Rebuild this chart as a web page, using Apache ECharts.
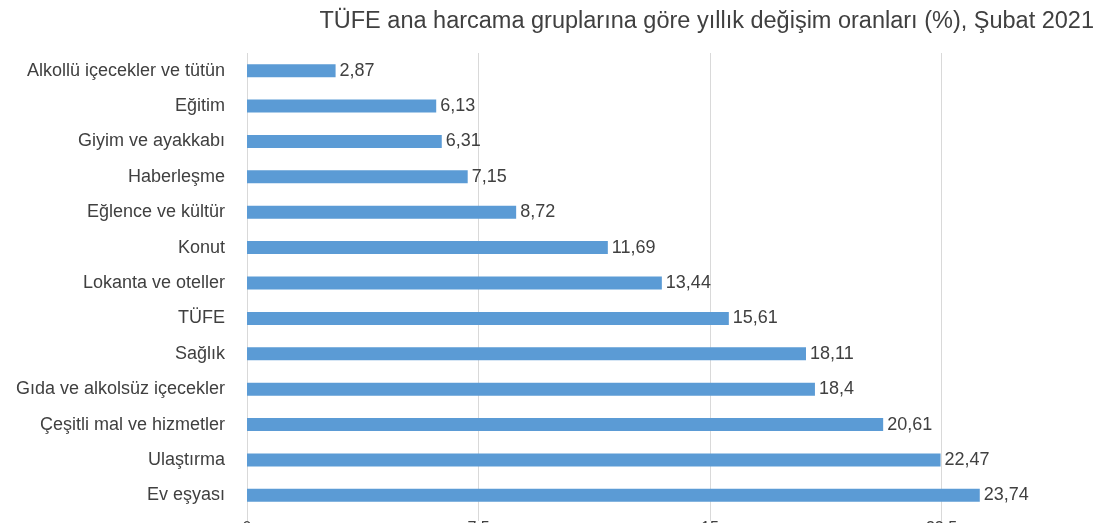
<!DOCTYPE html>
<html>
<head>
<meta charset="utf-8">
<script src="https://cdn.jsdelivr.net/npm/echarts@6/dist/echarts.min.js"></script>
<style>
  html, body { margin: 0; padding: 0; background: #fff; overflow: hidden; }
  body { width: 1103px; height: 523px; }
  #chart { width: 1200px; height: 523px; }
</style>
</head>
<body>
<div id="chart"></div>
<script>
// Categories listed bottom to top (ECharts category y-axis starts at the bottom)
const categories = [
    'Ev eşyası',
    'Ulaştırma',
    'Çeşitli mal ve hizmetler',
    'Gıda ve alkolsüz içecekler',
    'Sağlık',
    'TÜFE',
    'Lokanta ve oteller',
    'Konut',
    'Eğlence ve kültür',
    'Haberleşme',
    'Giyim ve ayakkabı',
    'Eğitim',
    'Alkollü içecekler ve tütün'
];
const values = [23.74, 22.47, 20.61, 18.4, 18.11, 15.61, 13.44, 11.69, 8.72, 7.15, 6.31, 6.13, 2.87];
const axisMax = 30;
const axisStep = 7.5;

const fontFamily = '"Liberation Sans", "DejaVu Sans", sans-serif';
const textColor = '#404040';

function trNumber(v) {
    return String(v).replace('.', ',');
}

document.addEventListener('DOMContentLoaded', function() {
    // chart div is wider than the window so the 30 gridline falls off the right edge
    const chart = echarts.init(document.getElementById('chart'));
    const option = {
        animation: false,
        textStyle: { fontFamily: fontFamily },
        title: {
            text: 'TÜFE ana harcama gruplarına göre yıllık değişim oranları (%), Şubat 2021',
            right: 1200 - 1099,
            top: 5,
            textStyle: {
                fontFamily: fontFamily,
                fontSize: 23.5,
                fontWeight: 'normal',
                color: textColor
            }
        },
        grid: {
            left: 247,
            right: 1200 - Math.round(247 + 30.87 * axisMax),
            top: 53,
            bottom: 10,
            outerBoundsMode: 'none'
        },
        xAxis: {
            type: 'value',
            min: 0,
            max: axisMax,
            interval: axisStep,
            axisLine: { show: false },
            axisTick: { show: true, length: 8, lineStyle: { color: '#d9d9d9' } },
            axisLabel: {
                color: textColor,
                fontSize: 16,
                margin: 8,
                formatter: function(v) { return trNumber(v); }
            },
            splitLine: { lineStyle: { color: '#d9d9d9', width: 1 } }
        },
        yAxis: {
            type: 'category',
            data: categories,
            axisLine: { show: false },
            axisTick: { show: false },
            axisLabel: {
                color: textColor,
                fontSize: 18,
                margin: 22
            }
        },
        series: [{
            type: 'bar',
            data: values,
            barWidth: 13,
            itemStyle: { color: '#5b9bd5' },
            label: {
                show: true,
                position: 'right',
                distance: 4,
                color: textColor,
                fontSize: 18,
                formatter: function(p) { return trNumber(p.value); }
            }
        }]
    };
    chart.setOption(option);
});
</script>
</body>
</html>
